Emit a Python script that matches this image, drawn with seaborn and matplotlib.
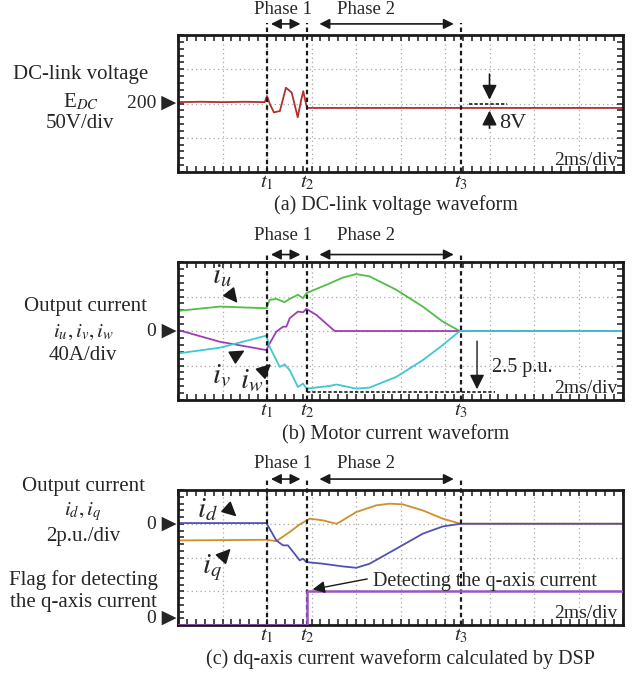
import matplotlib
matplotlib.use('Agg')
import matplotlib.pyplot as plt
import matplotlib.transforms as mtransforms
from matplotlib.ticker import MultipleLocator
import seaborn as sns

sns.set_theme(style='white')
plt.rcParams['font.family'] = ['Liberation Serif', 'DejaVu Sans']
plt.rcParams['mathtext.fontset'] = 'stix'

# time instants (ms)
t1, t2, t3 = 4.0, 5.8, 12.7

# (a) DC-link voltage (V)
t_dc = [0, 1, 2, 3, 3.9, 4.0, 4.13, 4.31, 4.58, 4.85, 5.11, 5.38, 5.53, 5.63, 5.75, 5.81, 10, 20]
v_dc = [202, 202.5, 202, 202.5, 202, 211, 199, 187, 189, 223, 216, 180, 204, 218, 200, 193.5, 193.5, 193.5]

# (b) motor currents (A)
t_u = [0, 1.87, 3.97, 4.12, 4.42, 4.79, 5.02, 5.39, 5.62, 5.77, 6.67, 7.42, 8.01, 8.61, 9.81, 11.0, 11.9, 12.66, 20]
i_u = [23.3, 28.3, 26.4, 36, 37.3, 33.4, 37.3, 42, 38, 43.9, 53.6, 62, 66, 63.3, 47.8, 28.3, 10.9, 0, 0]
t_w = [0, 1.87, 3.97, 4.12, 4.57, 4.79, 5.02, 5.39, 5.62, 5.77, 6.82, 7.12, 8.01, 8.61, 9.81, 11.0, 11.9, 12.66, 20]
i_w = [-26, -19.4, -5.4, -18.3, -41.6, -38.8, -45.4, -64.9, -61, -66.8, -63.7, -62, -66.8, -65.6, -53.2, -33.8, -16.3, 0, 0]
t_v = [0, 1.87, 3.97, 4.12, 4.42, 4.72, 4.87, 5.02, 5.39, 5.62, 5.77, 6.22, 7.04, 20]
i_v = [1.2, -12.4, -22.1, -14.4, -0.8, 5, 5, 14.8, 22.5, 21.7, 25.6, 18.6, 0, 0]

# (c) dq-axis currents (p.u.) and detection flag
t_d = [0, 3.97, 4.12, 4.42, 4.72, 4.94, 5.24, 5.47, 5.62, 5.77, 6.52, 7.42, 8.01, 8.61, 9.81, 11.0, 11.9, 12.7, 20]
i_d = [0.04, 0.04, -0.3, -0.99, -1.28, -1.28, -1.78, -2.17, -2.07, -2.27, -2.37, -2.53, -2.61, -2.37, -1.48, -0.59, -0.16, 0.0, 0.0]
t_q = [0, 3.97, 4.42, 5.02, 5.47, 5.92, 6.52, 7.12, 7.27, 8.01, 8.91, 9.51, 10.1, 11.0, 11.9, 12.7, 20]
i_q = [-0.99, -0.95, -1.03, -0.49, -0.04, 0.30, 0.20, 0.0, 0.10, 0.69, 1.09, 1.19, 1.15, 0.79, 0.30, 0.0, 0.0]
t_flag = [0, 5.8, 5.8, 20]
flag = [0, 0, 1, 1]

W, H = 635, 675
fig = plt.figure(figsize=(W / 100, H / 100), dpi=100)


def add_box(left, top, right, bottom):
    return fig.add_axes([left / W, 1 - bottom / H, (right - left) / W, (bottom - top) / H])


def scope_style(ax, ylim, ystep):
    ax.set_xlim(0, 20)
    ax.set_ylim(*ylim)
    ax.xaxis.set_major_locator(MultipleLocator(2))
    ax.xaxis.set_minor_locator(MultipleLocator(0.4))
    ax.yaxis.set_major_locator(MultipleLocator(ystep))
    ax.yaxis.set_minor_locator(MultipleLocator(ystep / 5))
    ax.grid(which='major', ls=(0, (1, 2.5)), color='#a8a8a8', lw=0.9)
    ax.set_axisbelow(True)
    ax.tick_params(which='both', direction='in', top=True, right=True, bottom=True, left=True,
                   labelleft=False, labelbottom=False, length=4, width=1.1, color='k')
    for s in ax.spines.values():
        s.set_linewidth(2)
        s.set_color('k')
    ax.set_xlabel('')
    ax.set_ylabel('')


def phase_marks(ax, above):
    for t, lab in zip([t1, t2, t3], ['$t_1$', '$t_2$', '$t_3$']):
        ax.axvline(t, ymin=0, ymax=1 + above, color='k', ls=(0, (2, 1.5)), lw=1.6, clip_on=False, zorder=5)
        ax.annotate(lab, xy=(t, 0), xycoords=('data', 'axes fraction'), xytext=(0, -11),
                    textcoords='offset pixels', ha='center', va='center', fontsize=15)
    ya = 1 + above * 0.9
    ax.annotate('', xy=(5.63, ya), xytext=(4.05, ya), xycoords=('data', 'axes fraction'),
                arrowprops=dict(arrowstyle='<|-|>', color='k', lw=1.2, mutation_scale=15), annotation_clip=False)
    ax.annotate('', xy=(12.52, ya), xytext=(6.23, ya), xycoords=('data', 'axes fraction'),
                arrowprops=dict(arrowstyle='<|-|>', color='k', lw=1.2, mutation_scale=15), annotation_clip=False)
    ax.annotate('Phase 1', xy=(4.72, 1), xycoords=('data', 'axes fraction'), xytext=(0, 26),
                textcoords='offset pixels', ha='center', va='center', fontsize=13.5)
    ax.annotate('Phase 2', xy=(8.47, 1), xycoords=('data', 'axes fraction'), xytext=(0, 26),
                textcoords='offset pixels', ha='center', va='center', fontsize=13.5)
    ax.text(0.988, 0.085, '2ms/div', transform=ax.transAxes, ha='right', va='center', fontsize=14)


def zero_mark(ax, y, label):
    tr = mtransforms.blended_transform_factory(ax.transAxes, ax.transData)
    ax.text(-0.004, y, label + ' \u25B6', transform=tr, ha='right', va='center', fontsize=14)


arrow_k = dict(arrowstyle='-|>', color='k', lw=1.2, mutation_scale=22)

# ---------------- (a) ----------------
axa = add_box(178, 35, 623, 172)
scope_style(axa, (100, 300), 50)
sns.lineplot(x=t_dc, y=v_dc, ax=axa, color='#b22f2f', lw=1.3, estimator=None, sort=False)
phase_marks(axa, 0.09)
zero_mark(axa, 200, '200')
axa.plot([13.1, 14.8], [200, 200], color='k', ls=(0, (2, 1.2)), lw=1.2)
axa.annotate('', xy=(14.0, 201.5), xytext=(14.0, 247), arrowprops=arrow_k)
axa.annotate('', xy=(14.0, 193.7), xytext=(14.0, 160), arrowprops=arrow_k)
axa.text(14.45, 171, '8V', ha='left', va='center', fontsize=16)
fig.text(81 / W, 1 - 75 / H, 'DC-link voltage', ha='center', va='center', fontsize=15)
fig.text(81 / W, 1 - 102 / H, 'E$_{\\mathit{DC}}$', ha='center', va='center', fontsize=15)
fig.text(80 / W, 1 - 124 / H, '50V/div', ha='center', va='center', fontsize=15)
fig.text(396 / W, 1 - 205 / H, '(a) DC-link voltage waveform', ha='center', va='center', fontsize=14.5)

# ---------------- (b) ----------------
axb = add_box(178, 262, 623, 400)
scope_style(axb, (-80, 80), 40)
sns.lineplot(x=t_u, y=i_u, ax=axb, color='#4fbf45', lw=1.3, estimator=None, sort=False)
sns.lineplot(x=t_v, y=i_v, ax=axb, color='#a03cb4', lw=1.3, estimator=None, sort=False)
sns.lineplot(x=t_w, y=i_w, ax=axb, color='#3fc8d2', lw=1.3, estimator=None, sort=False)
phase_marks(axb, 0.06)
zero_mark(axb, 0, '0')
axb.text(1.98, 64, '$i_u$', ha='center', va='center', fontsize=21)
axb.annotate('', xy=(2.75, 30), xytext=(2.2, 48), arrowprops=arrow_k)
axb.text(1.93, -52, '$i_v$', ha='center', va='center', fontsize=21)
axb.annotate('', xy=(3.1, -21), xytext=(2.43, -31), arrowprops=arrow_k)
axb.text(3.33, -58, '$i_w$', ha='center', va='center', fontsize=21)
axb.annotate('', xy=(4.27, -36), xytext=(3.78, -48), arrowprops=arrow_k)
axb.plot([5.8, 14.25], [-70.7, -70.7], color='k', ls=(0, (2, 1.2)), lw=1.2)
axb.annotate('', xy=(13.44, -70.7), xytext=(13.44, -8.5),
             arrowprops=dict(arrowstyle='-|>', color='k', lw=1.0, mutation_scale=22))
axb.text(14.1, -42, '2.5 p.u.', ha='left', va='center', fontsize=14.5)
fig.text(85 / W, 1 - 307 / H, 'Output current', ha='center', va='center', fontsize=15)
fig.text(83 / W, 1 - 332 / H, '$i_{u}, i_{v}, i_{w}$', ha='center', va='center', fontsize=15)
fig.text(83 / W, 1 - 355 / H, '40A/div', ha='center', va='center', fontsize=15)
fig.text(396 / W, 1 - 435 / H, '(b) Motor current waveform', ha='center', va='center', fontsize=14.5)

# ---------------- (c) ----------------
axc = add_box(178, 490, 623, 625)
scope_style(axc, (-6, 2), 2)
axf = axc.twinx()
axf.set_ylim(0, 4)
axf.tick_params(right=False, labelright=False)
for s in axf.spines.values():
    s.set_visible(False)
sns.lineplot(x=t_q, y=i_q, ax=axc, color='#d08e2c', lw=1.3, estimator=None, sort=False)
sns.lineplot(x=t_d, y=i_d, ax=axc, color='#5151b5', lw=1.3, estimator=None, sort=False)
sns.lineplot(x=t_flag, y=flag, ax=axf, color='#9a55c0', lw=1.8, estimator=None, sort=False)
axf.set_ylabel('')
phase_marks(axc, 0.09)
zero_mark(axc, 0, '0')
zero_mark(axf, 0.2, '0')
axc.text(1.3, 0.85, '$i_d$', ha='center', va='center', fontsize=21)
axc.annotate('', xy=(2.72, 0.32), xytext=(2.2, 0.95), arrowprops=arrow_k)
axc.text(1.53, -2.62, '$i_q$', ha='center', va='center', fontsize=21)
axc.annotate('', xy=(2.45, -1.36), xytext=(2.0, -2.0), arrowprops=arrow_k)
axf.annotate('', xy=(5.93, 1.04), xytext=(8.63, 1.38),
             arrowprops=dict(arrowstyle='-|>', color='k', lw=1.0, mutation_scale=18))
axf.text(8.76, 1.3, 'Detecting the q-axis current', ha='left', va='center', fontsize=14.5)
fig.text(83 / W, 1 - 486 / H, 'Output current', ha='center', va='center', fontsize=15)
fig.text(83 / W, 1 - 512 / H, '$i_d, i_q$', ha='center', va='center', fontsize=15)
fig.text(83 / W, 1 - 536 / H, '2p.u./div', ha='center', va='center', fontsize=15)
fig.text(83 / W, 1 - 580 / H, 'Flag for detecting', ha='center', va='center', fontsize=15)
fig.text(83 / W, 1 - 602 / H, 'the q-axis current', ha='center', va='center', fontsize=15)
fig.text(400 / W, 1 - 659 / H, '(c) dq-axis current waveform calculated by DSP', ha='center', va='center', fontsize=14.5)

fig.savefig('out.png', dpi=100)
